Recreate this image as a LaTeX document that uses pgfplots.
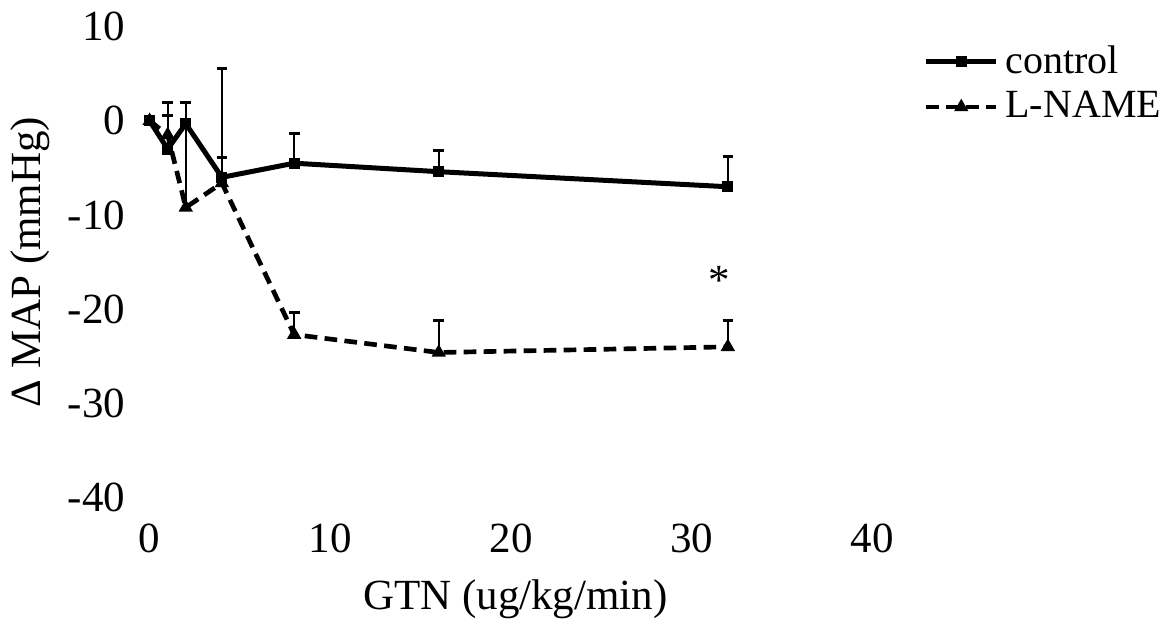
\documentclass[border=0pt]{standalone}
\usepackage{fontspec}
\setmainfont{Liberation Serif}
\usepackage{pgfplots}
\usepackage{pgfplotstable}
\pgfplotsset{compat=1.18}

% dose, mean, upper SE
\pgfplotstableread{
x   y     err
0   0     0
1   -3.0  4.9
2   -0.3  2.2
4   -6.0  11.6
8   -4.5  3.2
16  -5.4  2.3
32  -7.0  3.2
}\control
\pgfplotstableread{
x   y     err
0   0     0
1   -1.5  2.1
2   -9.2  11.1
4   -6.6  2.7
8   -22.7 2.3
16  -24.6 3.4
32  -24.0 2.8
}\lname

\begin{document}
\begin{tikzpicture}
\begin{axis}[
    scale only axis,
    width=216.9pt, height=141.3pt,
    xmin=0, xmax=40, ymin=-40, ymax=10,
    xtick={0,10,20,30,40},
    ytick={-40,-30,-20,-10,0,10},
    axis lines=left,
    axis line style={draw=none},
    tick style={draw=none},
    font=\fontsize{12.9}{15}\selectfont,
    /pgf/number format/assume math mode=true,
    xticklabel style={yshift=-2.4pt},
    yticklabel style={xshift=-1.7pt},
    xlabel={GTN (ug/kg/min)},
    ylabel={Δ MAP (mmHg)},
    xlabel style={at={(rel axis cs:0.506,-0.216)}, anchor=center},
    ylabel style={at={(rel axis cs:-0.1646,0.5)}, anchor=center},
    clip=false,
    legend style={draw=none, fill=none, at={(axis cs:42.8,8.8)}, anchor=north west,
        inner sep=0pt, nodes={inner sep=2pt}, font=\fontsize{12}{14}\selectfont},
    legend cell align=left,
    legend image code/.code={\draw[mark repeat=2,mark phase=2,#1] plot coordinates {(0cm,0cm) (0.37cm,0cm) (0.74cm,0cm)};},
    error bars/y dir=plus,
    error bars/y explicit,
    error bars/error bar style={solid, line width=0.6pt},
    error bars/error mark options={rotate=90, mark size=1.6pt, line width=0.9pt, solid},
]
\addplot[black, line width=1.5pt, mark=square*, mark size=0.9pt, mark options={solid}]
    table[x=x, y=y, y error=err] {\control};
\addlegendentry{control}
\addplot[black, line width=1.4pt, dash pattern=on 3.8pt off 2.2pt, mark=triangle*, mark size=1.1pt, mark options={solid}]
    table[x=x, y=y, y error=err] {\lname};
\addlegendentry{L-NAME}
\node at (axis cs:31.5,-17.0) {*};
\coordinate (BL) at (axis cs:-8.24,-53.66);
\coordinate (TR) at (axis cs:56.69,12.83);
\end{axis}
\path (BL) rectangle (TR);
\end{tikzpicture}
\end{document}
